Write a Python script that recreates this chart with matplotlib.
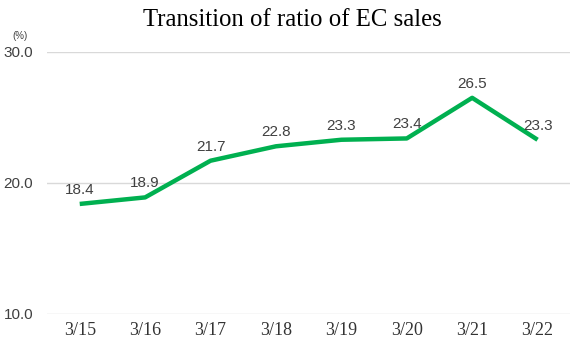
import matplotlib
matplotlib.use('Agg')
import matplotlib.pyplot as plt

# Data
dates = ['3/15', '3/16', '3/17', '3/18', '3/19', '3/20', '3/21', '3/22']
ratio = [18.4, 18.9, 21.7, 22.8, 23.3, 23.4, 26.5, 23.3]
yticks = [10.0, 20.0, 30.0]

fig = plt.figure(figsize=(5.84, 3.56), dpi=100)
ax = fig.add_axes([0.0805, 0.118, 0.896, 0.736])

x = list(range(len(dates)))
ax.plot(x, ratio, color='#00B050', linewidth=3.2, solid_capstyle='butt')

for xi, v in zip(x, ratio):
    ax.annotate(f'{v:.1f}', (xi, v), xytext=(0, 5), textcoords='offset points',
                ha='center', va='bottom', fontsize=11, color='#404040',
                family='Liberation Sans')

ax.set_xlim(-0.5, len(dates) - 0.5)
ax.set_ylim(10, 30)
ax.set_yticks(yticks)
ax.set_yticklabels([f'{t:.1f}' for t in yticks], family='Liberation Sans',
                   fontsize=11, color='#404040')
ax.set_xticks(x)
ax.set_xticklabels(dates, family='Liberation Serif', fontsize=13, color='#333333')
ax.tick_params(axis='x', length=0, pad=6)
ax.tick_params(axis='y', length=0, pad=10)
ax.grid(axis='y', color='#D9D9D9', linewidth=1)
ax.set_axisbelow(True)
for s in ax.spines.values():
    s.set_visible(False)

fig.text(0.5, 0.945, 'Transition of ratio of EC sales', ha='center', va='center',
         family='Liberation Serif', fontsize=17.8, color='black')
fig.text(0.022, 0.9, '(%)', ha='left', va='center', family='Liberation Sans',
         fontsize=7, color='#404040')

fig.savefig('out.png', dpi=100)
